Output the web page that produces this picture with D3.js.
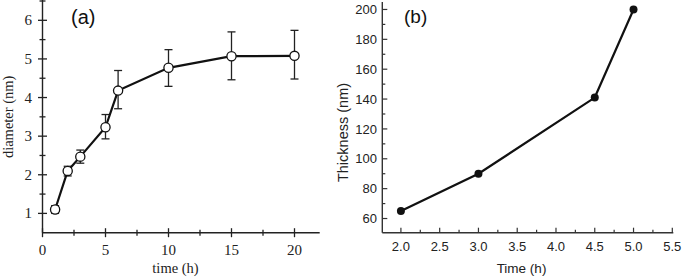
<!DOCTYPE html>
<html><head><meta charset="utf-8">
<script src="https://cdn.jsdelivr.net/npm/d3@7"></script>
<style>body{margin:0;background:#fff}svg{display:block}</style>
</head><body>
<svg id="c" width="685" height="278"></svg>
<script>
// Panel (a)
const timeA = [1, 2, 3, 5, 6, 10, 15, 20];
const diameter = [1.1, 2.1, 2.47, 3.23, 4.18, 4.77, 5.07, 5.08];
const errLow = [1.0, 1.97, 2.3, 2.93, 3.71, 4.29, 4.46, 4.48];
const errHigh = [1.2, 2.22, 2.64, 3.56, 4.70, 5.24, 5.70, 5.74];
const xTicksA = [0, 5, 10, 15, 20];
const yTicksA = [1, 2, 3, 4, 5, 6];
// Panel (b)
const timeB = [2.0, 3.0, 4.5, 5.0];
const thickness = [65, 90, 141, 200];
const xTicksB = [2.0, 2.5, 3.0, 3.5, 4.0, 4.5, 5.0, 5.5];
const yTicksB = [60, 80, 100, 120, 140, 160, 180, 200];

const svg = d3.select("#c");
const serif = "'Liberation Serif', 'Times New Roman', serif";
const sans = "'Liberation Sans', Arial, sans-serif";

// ---------- Panel (a)
{
  const x = d3.scaleLinear().domain([0, 22]).range([42.5, 319.7]);
  const y = d3.scaleLinear().domain([0.5, 6.5]).range([232.7, 1]);
  const g = svg.append("g");
  g.append("line").attr("x1", x(0)).attr("x2", x(22)).attr("y1", y(0.5)).attr("y2", y(0.5)).attr("stroke", "#222").attr("stroke-width", 1.4);
  g.append("line").attr("x1", x(0)).attr("x2", x(0)).attr("y1", y(0.5)).attr("y2", 0).attr("stroke", "#222").attr("stroke-width", 1.4);
  const xMinor = d3.range(2.5, 22, 5);
  xTicksA.forEach(t => g.append("line").attr("x1", x(t)).attr("x2", x(t)).attr("y1", y(0.5) - 4.5).attr("y2", y(0.5) + 4.5).attr("stroke", "#222").attr("stroke-width", 1.3));
  xMinor.forEach(t => g.append("line").attr("x1", x(t)).attr("x2", x(t)).attr("y1", y(0.5) - 3).attr("y2", y(0.5) + 3).attr("stroke", "#222").attr("stroke-width", 1.3));
  const yMinor = d3.range(1.5, 6.6, 1);
  yTicksA.forEach(t => g.append("line").attr("x1", x(0) - 4.5).attr("x2", x(0) + 4.5).attr("y1", y(t)).attr("y2", y(t)).attr("stroke", "#222").attr("stroke-width", 1.3));
  yMinor.forEach(t => g.append("line").attr("x1", x(0) - 3).attr("x2", x(0) + 3).attr("y1", y(t)).attr("y2", y(t)).attr("stroke", "#222").attr("stroke-width", 1.3));
  g.selectAll(".xl").data(xTicksA).join("text").attr("x", d => x(d)).attr("y", 255)
    .attr("text-anchor", "middle").attr("font-family", serif).attr("font-size", 15).attr("fill", "#222").text(d => d);
  g.selectAll(".yl").data(yTicksA).join("text").attr("x", 32).attr("y", d => y(d) + 5)
    .attr("text-anchor", "end").attr("font-family", serif).attr("font-size", 15).attr("fill", "#222").text(d => d);
  g.append("text").attr("x", 175.5).attr("y", 273).attr("text-anchor", "middle").attr("font-family", serif).attr("font-size", 14.5).attr("fill", "#222").text("time (h)");
  g.append("text").attr("transform", `translate(13,${y(3.5)}) rotate(-90)`).attr("text-anchor", "middle").attr("font-family", serif).attr("font-size", 14.5).attr("fill", "#222").text("diameter (nm)");
  g.append("text").attr("x", 71).attr("y", 24).attr("font-family", sans).attr("font-size", 20).attr("fill", "#111").text("(a)");
  timeA.forEach((t, i) => {
    g.append("line").attr("x1", x(t)).attr("x2", x(t)).attr("y1", y(errLow[i])).attr("y2", y(errHigh[i])).attr("stroke", "#222").attr("stroke-width", 1.3);
    [errLow[i], errHigh[i]].forEach(v => g.append("line").attr("x1", x(t) - 4).attr("x2", x(t) + 4).attr("y1", y(v)).attr("y2", y(v)).attr("stroke", "#222").attr("stroke-width", 1.3));
  });
  const line = d3.line().x((d, i) => x(timeA[i])).y(d => y(d));
  g.append("path").datum(diameter).attr("d", line).attr("fill", "none").attr("stroke", "#111").attr("stroke-width", 2.2);
  g.selectAll(".pt").data(diameter).join("circle").attr("cx", (d, i) => x(timeA[i])).attr("cy", d => y(d)).attr("r", 4.6)
    .attr("fill", "#fff").attr("stroke", "#111").attr("stroke-width", 1.3);
}

// ---------- Panel (b)
{
  const x = d3.scaleLinear().domain([1.76, 5.5]).range([382.3, 672.3]);
  const y = d3.scaleLinear().domain([50.5, 205]).range([232.7, 2]);
  const g = svg.append("g");
  g.append("line").attr("x1", x(1.76)).attr("x2", x(5.5) + 1).attr("y1", y(50.5)).attr("y2", y(50.5)).attr("stroke", "#333").attr("stroke-width", 1.4);
  g.append("line").attr("x1", x(1.76)).attr("x2", x(1.76)).attr("y1", y(50.5)).attr("y2", y(205)).attr("stroke", "#333").attr("stroke-width", 1.4);
  const xMinor = d3.range(2.25, 5.5, 0.5);
  xTicksB.forEach(t => g.append("line").attr("x1", x(t)).attr("x2", x(t)).attr("y1", y(50.5)).attr("y2", y(50.5) - 5).attr("stroke", "#333").attr("stroke-width", 1.2));
  xMinor.forEach(t => g.append("line").attr("x1", x(t)).attr("x2", x(t)).attr("y1", y(50.5)).attr("y2", y(50.5) - 3).attr("stroke", "#333").attr("stroke-width", 1.2));
  const yMinor = d3.range(70, 200, 20);
  yTicksB.forEach(t => g.append("line").attr("x1", x(1.76)).attr("x2", x(1.76) + 5).attr("y1", y(t)).attr("y2", y(t)).attr("stroke", "#333").attr("stroke-width", 1.2));
  yMinor.forEach(t => g.append("line").attr("x1", x(1.76)).attr("x2", x(1.76) + 3).attr("y1", y(t)).attr("y2", y(t)).attr("stroke", "#333").attr("stroke-width", 1.2));
  g.selectAll(".xl").data(xTicksB).join("text").attr("x", d => x(d)).attr("y", 251)
    .attr("text-anchor", "middle").attr("font-family", sans).attr("font-size", 13).attr("fill", "#222").text(d => d.toFixed(1));
  g.selectAll(".yl").data(yTicksB).join("text").attr("x", 377).attr("y", d => y(d) + 4.7)
    .attr("text-anchor", "end").attr("font-family", sans).attr("font-size", 13).attr("fill", "#222").text(d => d);
  g.append("text").attr("x", 521.5).attr("y", 273).attr("text-anchor", "middle").attr("font-family", sans).attr("font-size", 13.5).attr("fill", "#222").text("Time (h)");
  g.append("text").attr("transform", `translate(347.5,132.5) rotate(-90)`).attr("text-anchor", "middle").attr("font-family", sans).attr("font-size", 14.5).attr("fill", "#222").text("Thickness (nm)");
  g.append("text").attr("x", 404).attr("y", 23).attr("font-family", sans).attr("font-size", 19).attr("fill", "#111").text("(b)");
  const line = d3.line().x((d, i) => x(timeB[i])).y(d => y(d));
  g.append("path").datum(thickness).attr("d", line).attr("fill", "none").attr("stroke", "#111").attr("stroke-width", 2.2);
  g.selectAll(".pt").data(thickness).join("circle").attr("cx", (d, i) => x(timeB[i])).attr("cy", d => y(d)).attr("r", 4)
    .attr("fill", "#111");
}
</script>
</body></html>
